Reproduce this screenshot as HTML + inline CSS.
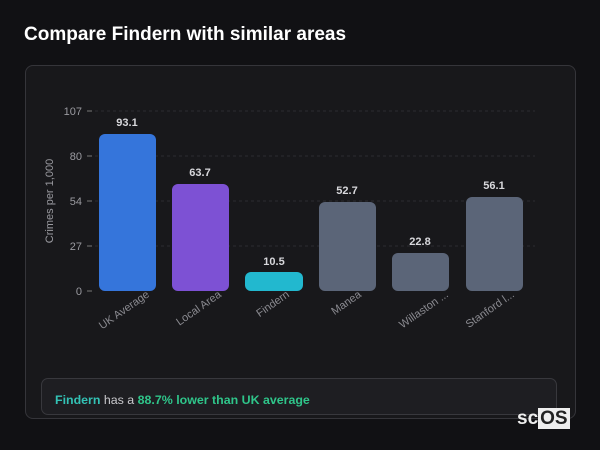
<!DOCTYPE html>
<html><head><style>
body{margin:0;width:600px;height:450px;background:#111114;font-family:"Liberation Sans",sans-serif;overflow:hidden;position:relative}
h1{position:absolute;left:24px;top:24px;margin:0;font-size:19px;font-weight:bold;color:#fff}
.card{position:absolute;left:25px;top:65px;width:549px;height:352px;border:1px solid #35353a;border-radius:8px;background:#18181b}
.sum{position:absolute;left:41px;top:378px;width:516px;height:37px;border:1px solid #38383d;border-radius:7px;background:#1e1e22;box-sizing:border-box;font-size:12.4px;color:#c8c8cc;line-height:42px;padding-left:13px}
.sum b{color:#2fc58a}
.sum .f{color:#33c2b5}
.logo{position:absolute;left:517px;top:408px;font-size:19px;font-weight:bold;color:#eee}
.logo span{background:#eee;color:#222;padding:0 2px}
</style></head><body>
<h1>Compare Findern with similar areas</h1>
<div class="card"></div>
<svg width="600" height="450" style="position:absolute;left:0;top:0">
<g stroke="#2c2c30" stroke-dasharray="3,3" stroke-width="1">
<line x1="95" x2="535" y1="111" y2="111"/><line x1="95" x2="535" y1="156" y2="156"/><line x1="95" x2="535" y1="201" y2="201"/><line x1="95" x2="535" y1="246" y2="246"/>
</g>
<g stroke="#777" stroke-width="1"><line x1="87" x2="92" y1="111" y2="111"/><line x1="87" x2="92" y1="156" y2="156"/><line x1="87" x2="92" y1="201" y2="201"/><line x1="87" x2="92" y1="246" y2="246"/><line x1="87" x2="92" y1="291" y2="291"/></g>
<g fill="#9a9aa0" font-size="11" text-anchor="end" font-family="Liberation Sans">
<text x="82" y="115">107</text><text x="82" y="160">80</text><text x="82" y="205">54</text><text x="82" y="250">27</text><text x="82" y="295">0</text>
</g>
<text transform="translate(53,201) rotate(-90)" fill="#9a9aa0" font-size="11" text-anchor="middle">Crimes per 1,000</text>
<rect x="99" y="134" width="57" height="157" rx="6" fill="#3575db"/>
<rect x="172" y="184" width="57" height="107" rx="6" fill="#7d51d4"/>
<rect x="245" y="272" width="58" height="19" rx="6" fill="#22b8cf"/>
<rect x="319" y="202" width="57" height="89" rx="6" fill="#5b6578"/>
<rect x="392" y="253" width="57" height="38" rx="6" fill="#5b6578"/>
<rect x="466" y="197" width="57" height="94" rx="6" fill="#5b6578"/>
<g fill="#d8d8dc" font-size="11" font-weight="bold" text-anchor="middle">
<text x="127" y="126">93.1</text><text x="200" y="176">63.7</text><text x="274" y="265">10.5</text><text x="347" y="194">52.7</text><text x="420" y="245">22.8</text><text x="494" y="189">56.1</text>
</g>
<g fill="#8a8a90" font-size="11" text-anchor="end">
<text transform="translate(150,296) rotate(-35)">UK Average</text>
<text transform="translate(222,296) rotate(-35)">Local Area</text>
<text transform="translate(290,296) rotate(-35)">Findern</text>
<text transform="translate(362,296) rotate(-35)">Manea</text>
<text transform="translate(449,296) rotate(-35)">Willaston ...</text>
<text transform="translate(515,296) rotate(-35)">Stanford l...</text>
</g>
</svg>
<div class="sum"><b class="f">Findern</b> has a <b>88.7% lower than UK average</b></div>
<div class="logo">sc<span>OS</span></div>
</body></html>
